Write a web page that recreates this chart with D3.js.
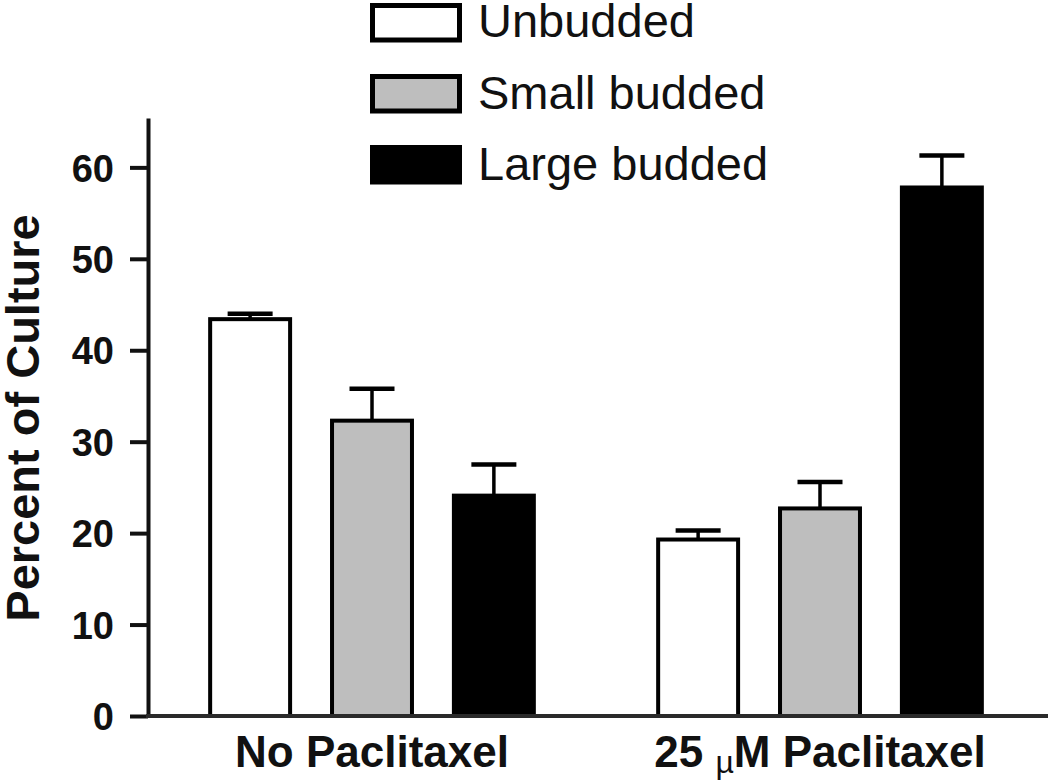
<!DOCTYPE html>
<html>
<head>
<meta charset="utf-8">
<script src="https://cdn.jsdelivr.net/npm/d3@7"></script>
<style>
  html, body { margin: 0; padding: 0; background: #fff; }
  svg { display: block; }
  text { font-family: "Liberation Sans", Arial, Helvetica, sans-serif; fill: #111; }
</style>
</head>
<body>
<svg id="chart" width="1050" height="781"></svg>
<script>
// ---- data ----
const groups = ["No Paclitaxel", "25 µM Paclitaxel"];
const series = ["Unbudded", "Small budded", "Large budded"];
const fills = ["#ffffff", "#bebebe", "#000000"];
const unbudded = [43.4, 19.3];
const smallBudded = [32.3, 22.7];
const largeBudded = [24.1, 57.8];
const unbuddedErr = [0.6, 1.0];
const smallBuddedErr = [3.5, 2.9];
const largeBuddedErr = [3.4, 3.5];
const yTicks = [0, 10, 20, 30, 40, 50, 60];
const yTitle = "Percent of Culture";

const values = [unbudded, smallBudded, largeBudded];
const errors = [unbuddedErr, smallBuddedErr, largeBuddedErr];

// ---- layout ----
const svg = d3.select("#chart");
const axisX = 148, baseY = 716, topY = 118, rightX = 1046;

const y = d3.scaleLinear().domain([0, 65.4]).range([baseY, topY]);
const x0 = d3.scaleBand().domain(groups).range([axisX, rightX - 2]).padding(0);
const x1 = d3.scaleBand().domain(series).range([0, x0.bandwidth()])
  .paddingInner(0.344).paddingOuter(0.51);

const data = [];
groups.forEach((g, gi) => {
  series.forEach((s, si) => {
    data.push({ g, s, si, v: values[si][gi], e: errors[si][gi] });
  });
});

// bars
svg.append("g").selectAll("rect").data(data).join("rect")
  .attr("x", d => x0(d.g) + x1(d.s))
  .attr("width", x1.bandwidth())
  .attr("y", d => y(d.v))
  .attr("height", d => y(0) - y(d.v))
  .attr("fill", d => fills[d.si])
  .attr("stroke", "#000")
  .attr("stroke-width", 4);

// error bars (upward only)
const eb = svg.append("g").attr("stroke", "#000");
eb.selectAll("line.stem").data(data).join("line").attr("class", "stem")
  .attr("x1", d => x0(d.g) + x1(d.s) + x1.bandwidth() / 2)
  .attr("x2", d => x0(d.g) + x1(d.s) + x1.bandwidth() / 2)
  .attr("y1", d => y(d.v))
  .attr("y2", d => y(d.v + d.e))
  .attr("stroke-width", 3.5);
eb.selectAll("line.cap").data(data).join("line").attr("class", "cap")
  .attr("x1", d => x0(d.g) + x1(d.s) + x1.bandwidth() / 2 - 22.5)
  .attr("x2", d => x0(d.g) + x1(d.s) + x1.bandwidth() / 2 + 22.5)
  .attr("y1", d => y(d.v + d.e))
  .attr("y2", d => y(d.v + d.e))
  .attr("stroke-width", 4.5);

// y axis
const yAxis = d3.axisLeft(y).tickValues(yTicks).tickSize(18).tickPadding(16).tickSizeOuter(0);
const gy = svg.append("g").attr("transform", `translate(${axisX},0)`).call(yAxis);
gy.select(".domain").attr("stroke", "#111").attr("stroke-width", 4);
gy.selectAll(".tick line").attr("stroke", "#111").attr("stroke-width", 4);
gy.selectAll(".tick text")
  .attr("font-family", "'Liberation Sans', Arial, sans-serif")
  .attr("font-size", 38).attr("font-weight", "bold").attr("fill", "#111")
  .attr("dy", "0.36em");

// x axis line
const xAxis = d3.axisBottom(x0).tickSize(0).tickFormat("");
const gx = svg.append("g").attr("transform", `translate(0,${baseY})`).call(xAxis);
gx.select(".domain").attr("stroke", "#2a2a2a").attr("stroke-width", 4)
  .attr("d", `M${axisX - 2},0H${rightX + 2}`);

// x labels
groups.forEach(g => {
  const t = svg.append("text")
    .attr("x", x0(g) + x0.bandwidth() / 2)
    .attr("y", 767)
    .attr("text-anchor", "middle")
    .attr("font-size", 44)
    .attr("font-weight", "bold");
  if (g.includes("µ")) {
    const parts = g.split("µ");
    t.append("tspan").text(parts[0]);
    t.append("tspan").text("µ").attr("font-weight", "normal").attr("font-size", 32).attr("dy", 6);
    t.append("tspan").text(parts[1].charAt(0)).attr("dy", -6);
    t.append("tspan").text(parts[1].slice(1));
  } else {
    t.text(g);
  }
});

// y title
svg.append("text")
  .attr("transform", `translate(39,${418}) rotate(-90)`)
  .attr("text-anchor", "middle")
  .attr("font-size", 47)
  .attr("font-weight", "bold")
  .text(yTitle);

// legend
const legend = svg.append("g");
series.forEach((s, i) => {
  const yy = 5.5 + i * 71;
  legend.append("rect")
    .attr("x", 372.5).attr("y", yy)
    .attr("width", 87).attr("height", 34.5)
    .attr("fill", fills[i]).attr("stroke", "#000").attr("stroke-width", 5);
  legend.append("text")
    .attr("x", 478).attr("y", 37 + i * 71.5)
    .attr("font-size", 47)
    .text(s);
});
</script>
</body>
</html>
